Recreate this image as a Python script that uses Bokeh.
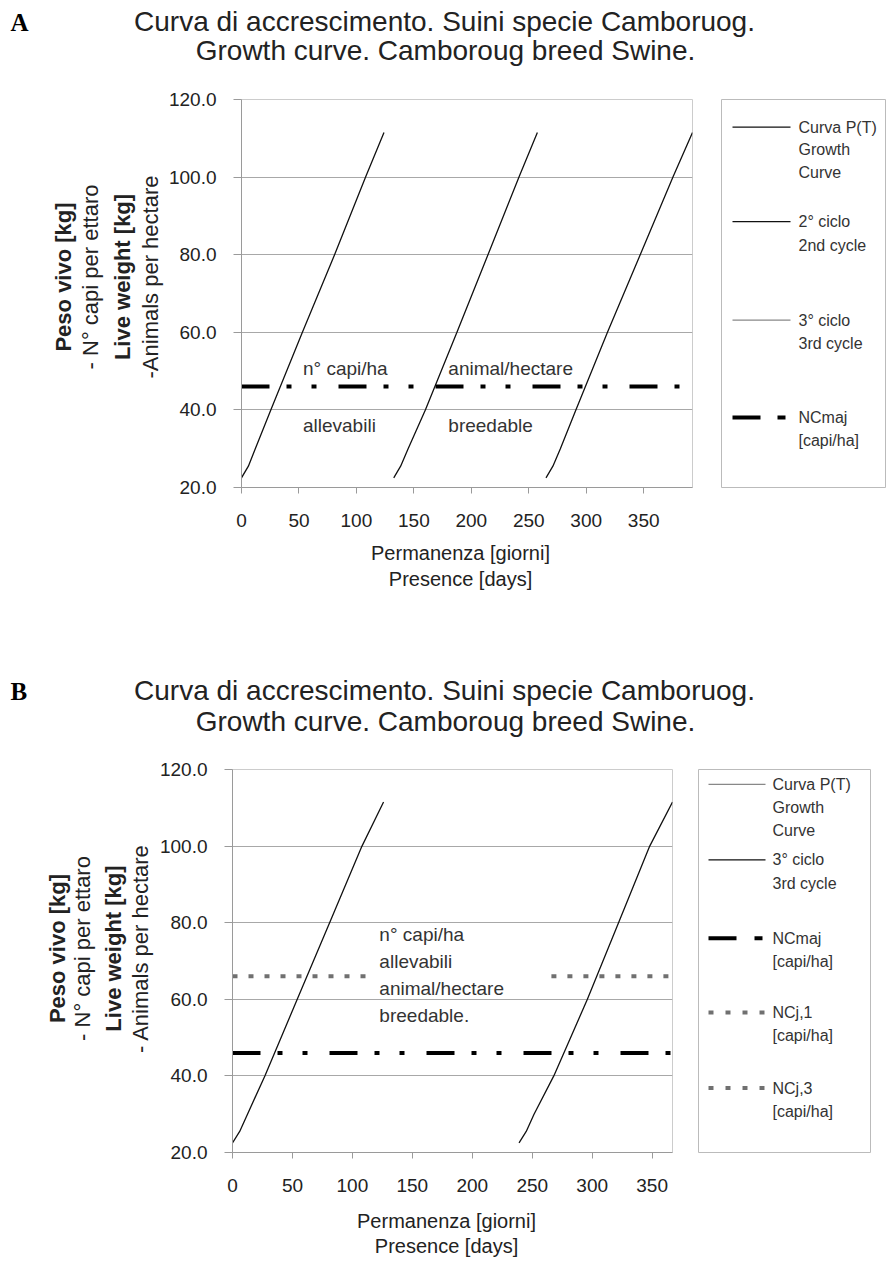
import math
from bokeh.plotting import figure
from bokeh.models import Range1d, Label, FixedTicker, NumeralTickFormatter
from bokeh.layouts import column, row
from bokeh.embed import file_html
from bokeh.resources import INLINE
from bokeh.core.properties import value

# ---------------- data ----------------
weight_kg = [22.5, 25.5, 30, 40, 60, 80, 100, 111.5]

# Panel A
a_cycle1_days = [0, 6, 12, 25.5, 53, 81, 108, 124]
a_cycle2_days = [132.5, 138.5, 145, 160, 187.5, 214.5, 241.5, 257.5]
a_cycle3_days = [265, 271, 277.5, 291, 318.5, 347, 375.5, 392.5]
a_ncmaj = 46

# Panel B
b_cycle1_days = [0, 6, 12.5, 27, 54, 81, 108, 126]
b_cycle3_days = [239, 245, 251.5, 268, 296, 322, 348, 367]
b_ncmaj = 46
b_ncj1_days = [0, 119]
b_ncj3_days = [266, 367]
b_ncj = 66

x_ticks = [0, 50, 100, 150, 200, 250, 300, 350]
y_ticks = [20, 40, 60, 80, 100, 120]

title_1 = "Curva di accrescimento. Suini specie Camboruog."
title_2 = "Growth curve. Camboroug breed Swine."
x_label_1 = "Permanenza [giorni]"
x_label_2 = "Presence [days]"

FONT = "Liberation Sans"
TXT = "#222222"
NCMAJ_DASH = "28 17 5 20 5 22"
NCJ_DASH = "5 11"
NCJ_COLOR = "#707070"


def main_fig(width, height, left, top, bottom, right, xmax):
    p = figure(width=width, height=height, x_range=Range1d(0, xmax),
               y_range=Range1d(20, 120), output_backend="svg",
               toolbar_location=None, min_border_left=left,
               min_border_top=top, min_border_bottom=bottom,
               min_border_right=right)
    p.title.text = ""
    p.xaxis.ticker = FixedTicker(ticks=x_ticks)
    p.yaxis.ticker = FixedTicker(ticks=y_ticks)
    p.yaxis.formatter = NumeralTickFormatter(format="0.0")
    for ax in (p.xaxis, p.yaxis):
        ax.axis_line_color = "#9a9a9a"
        ax.major_tick_line_color = "#9a9a9a"
        ax.minor_tick_line_color = None
        ax.major_tick_in = 0
        ax.major_label_text_font = FONT
        ax.major_label_text_font_size = "19px"
        ax.major_label_text_color = TXT
    p.yaxis.major_tick_out = 8
    p.yaxis.major_label_standoff = 17
    p.xaxis.major_tick_out = 6
    p.xaxis.major_label_standoff = 20
    p.xgrid.visible = False
    p.ygrid.grid_line_color = "#a8a8a8"
    p.outline_line_color = "#cccccc"
    p.background_fill_color = "white"
    p.border_fill_color = "white"
    return p


def text_fig(width, height, y_top, x0=0):
    """Plain canvas in page pixel coordinates (y grows downward)."""
    q = figure(width=width, height=height, x_range=Range1d(x0, x0 + width),
               y_range=Range1d(y_top + height, y_top), output_backend="svg",
               toolbar_location=None, min_border=0, x_axis_location=None,
               y_axis_location=None)
    q.title.text = ""
    q.grid.visible = False
    q.outline_line_color = None
    q.background_fill_color = "white"
    q.border_fill_color = "white"
    return q


def txt(q, x, y, text, size, bold=False, angle=0.0, align="center",
        font=FONT, color=TXT):
    q.text(x=[x], y=[y], text=[text], text_font=value(font),
           text_font_size=f"{size}px",
           text_font_style="bold" if bold else "normal",
           text_color=color, text_align=align, text_baseline="middle",
           angle=angle)


def dlab(p, text, x, y, size=19):
    p.add_layout(Label(x=x, y=y, text=text, text_font=FONT,
                       text_font_size=f"{size}px", text_align="left",
                       text_baseline="middle", text_color="#333333"))


def legend_fig(width, height, left, top, bottom, right, x0, x1, y0, y1):
    q = figure(width=width, height=height, x_range=Range1d(x0, x1),
               y_range=Range1d(y1, y0), output_backend="svg",
               toolbar_location=None, min_border_left=left,
               min_border_top=top, min_border_bottom=bottom,
               min_border_right=right, x_axis_location=None,
               y_axis_location=None)
    q.title.text = ""
    q.grid.visible = False
    q.outline_line_color = "#bbbbbb"
    q.background_fill_color = "white"
    q.border_fill_color = "white"
    return q


def ltext(q, x, y, text, size=16):
    q.text(x=[x], y=[y], text=[text], text_font=value(FONT),
           text_font_size=f"{size}px", text_color="#333333",
           text_baseline="middle", text_align="left")


def header(y_top, height, letter, y1, y2):
    h = text_fig(886, height, y_top)
    txt(h, 10, y1 + 1, letter, 25, bold=True, align="left",
        font="Liberation Serif", color="#000000")
    txt(h, 444, y1, title_1, 28)
    txt(h, 445, y2, title_2, 28)
    return h


def left_labels(width, y_top, height, xs, yc, last):
    q = text_fig(width, height, y_top)
    texts = [("Peso vivo [kg]", True), ("- N\u00b0 capi per ettaro", False),
             ("Live weight [kg]", True), (last, False)]
    for (t, b), x in zip(texts, xs):
        txt(q, x, yc, t, 22, bold=b, angle=math.pi / 2)
    return q


def footer(y_top, height, xc, y1, y2):
    f = text_fig(886, height, y_top)
    txt(f, xc, y1, x_label_1, 20)
    txt(f, xc, y2, x_label_2, 20)
    return f


# ---------------- panel A ----------------
head_a = header(0, 70, "A", 21, 50)
left_a = left_labels(164, 70, 470, [63, 90, 122, 150], 285,
                     "-Animals per hectare")

pa = main_fig(544, 470, 77, 29, 53, 16, max(a_cycle3_days))
for d in (a_cycle1_days, a_cycle2_days, a_cycle3_days):
    pa.line(d, weight_kg, line_color="#111111", line_width=1.3)
pa.line([0, max(a_cycle3_days)], [a_ncmaj, a_ncmaj], line_color="black",
        line_width=4, line_dash=NCMAJ_DASH)
dlab(pa, "n\u00b0 capi/ha", 53.5, 50.7)
dlab(pa, "animal/hectare", 180, 50.7)
dlab(pa, "allevabili", 53.5, 36)
dlab(pa, "breedable", 180, 36)

la = legend_fig(178, 470, 13, 24, 52, 1, 721, 885, 94, 488)
la.line([732, 790], [122, 122], line_color="#111111", line_width=1.2)
ltext(la, 798, 122, "Curva P(T)")
ltext(la, 798, 145, "Growth")
ltext(la, 798, 168, "Curve")
la.line([732, 790], [218, 218], line_color="#111111", line_width=1.2)
ltext(la, 798, 218, "2\u00b0 ciclo")
ltext(la, 798, 242, "2nd cycle")
la.line([732, 790], [318, 318], line_color="#888888", line_width=1.2)
ltext(la, 798, 318, "3\u00b0 ciclo")
ltext(la, 798, 342, "3rd cycle")
la.line([732, 760], [417, 417], line_color="black", line_width=4)
la.line([777, 785], [417, 417], line_color="black", line_width=4)
ltext(la, 798, 417, "NCmaj")
ltext(la, 798, 440, "[capi/ha]")

foot_a = footer(540, 100, 460, 552, 578)

# ---------------- panel B ----------------
head_b = header(640, 100, "B", 690, 721)
left_b = left_labels(156, 740, 460, [57, 82, 113, 140], 955,
                     "- Animals per hectare")

pb = main_fig(532, 460, 73, 29, 48, 16, max(b_cycle3_days))
for d in (b_cycle1_days, b_cycle3_days):
    pb.line(d, weight_kg, line_color="#111111", line_width=1.3)
pb.line([0, max(b_cycle3_days)], [b_ncmaj, b_ncmaj], line_color="black",
        line_width=4, line_dash=NCMAJ_DASH)
pb.line(b_ncj1_days, [b_ncj, b_ncj], line_color=NCJ_COLOR, line_width=4,
        line_dash=NCJ_DASH)
pb.line(b_ncj3_days, [b_ncj, b_ncj], line_color=NCJ_COLOR, line_width=4,
        line_dash=NCJ_DASH)
dlab(pb, "n\u00b0 capi/ha", 122.5, 76.8)
dlab(pb, "allevabili", 122.5, 69.8)
dlab(pb, "animal/hectare", 122.5, 62.9)
dlab(pb, "breedable.", 122.5, 55.9)

lb = legend_fig(198, 460, 10, 27, 47, 16, 698, 870, 767, 1153)
lb.line([708, 765], [782, 782], line_color="#888888", line_width=1.2)
ltext(lb, 772, 782, "Curva P(T)")
ltext(lb, 772, 805, "Growth")
ltext(lb, 772, 828, "Curve")
lb.line([708, 765], [858, 858], line_color="#111111", line_width=1.2)
ltext(lb, 772, 858, "3\u00b0 ciclo")
ltext(lb, 772, 882, "3rd cycle")
lb.line([708, 736], [937, 937], line_color="black", line_width=4)
lb.line([754, 762], [937, 937], line_color="black", line_width=4)
ltext(lb, 772, 937, "NCmaj")
ltext(lb, 772, 960, "[capi/ha]")
lb.line([708, 766], [1012, 1012], line_color=NCJ_COLOR, line_width=4,
        line_dash="5 12")
ltext(lb, 772, 1012, "NCj,1")
ltext(lb, 772, 1035, "[capi/ha]")
lb.line([708, 766], [1088, 1088], line_color=NCJ_COLOR, line_width=4,
        line_dash="5 12")
ltext(lb, 772, 1088, "NCj,3")
ltext(lb, 772, 1112, "[capi/ha]")

foot_b = footer(1200, 58, 446, 1220, 1245)

layout = column(head_a, row(left_a, pa, la), foot_a,
                head_b, row(left_b, pb, lb), foot_b)
open("out.html", "w").write(file_html(layout, INLINE))
